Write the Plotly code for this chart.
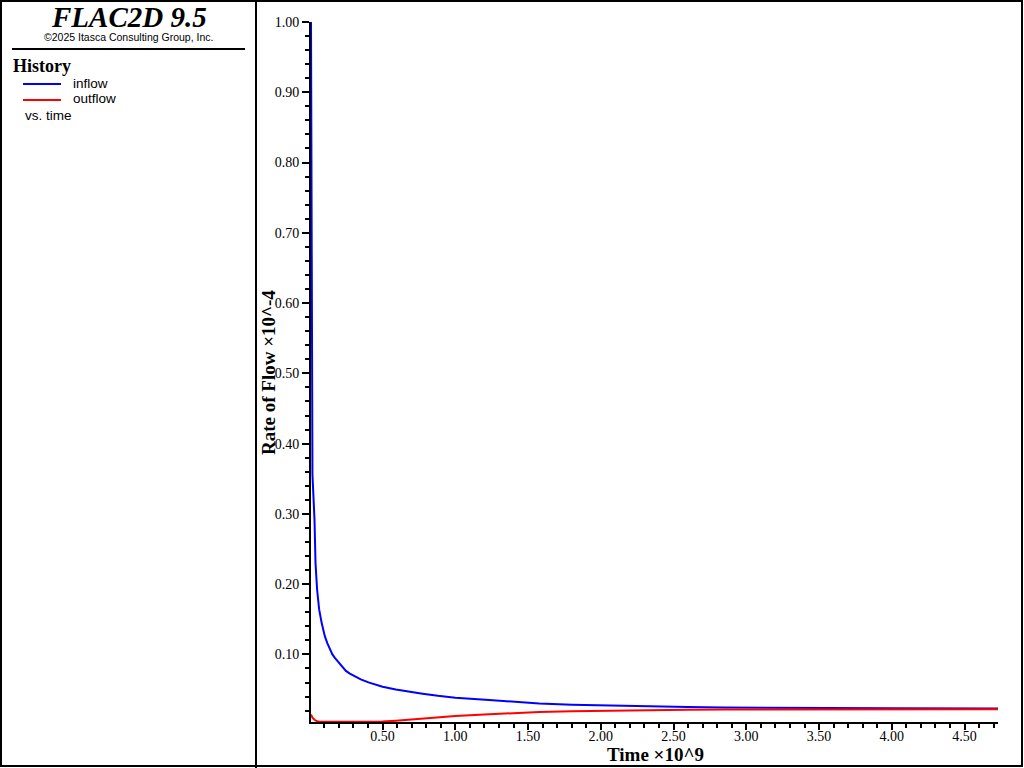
import plotly.graph_objects as go

# Data (time in units of 1e9, flow rate in units of 1e-4)
time = [0.008, 0.012, 0.018, 0.032, 0.039, 0.05, 0.064, 0.08, 0.103, 0.12, 0.137, 0.155, 0.172,
        0.2, 0.225, 0.248, 0.275, 0.3, 0.35, 0.408, 0.45, 0.5, 0.591, 0.68, 0.775, 0.88, 1.0,
        1.233, 1.4, 1.577, 1.8, 1.99, 2.3, 2.6, 2.85, 3.5, 4.0, 4.73]
inflow = [1.0, 0.5, 0.356, 0.292, 0.23, 0.192, 0.164, 0.146, 0.126, 0.116, 0.107, 0.100, 0.095,
          0.088, 0.081, 0.0765, 0.0727, 0.0697, 0.0645, 0.0598, 0.057, 0.054, 0.0502, 0.047,
          0.0441, 0.041, 0.0384, 0.035, 0.0325, 0.0303, 0.0285, 0.0275, 0.0262, 0.0252, 0.0245,
          0.0236, 0.0233, 0.0231]
outflow = [0.0146, 0.013, 0.010, 0.007, 0.006, 0.0048, 0.0043, 0.004, 0.004, 0.004, 0.004, 0.004,
           0.004, 0.004, 0.004, 0.004, 0.004, 0.004, 0.004, 0.0041, 0.0042, 0.0044, 0.0055, 0.007,
           0.0085, 0.0104, 0.0122, 0.0148, 0.0165, 0.018, 0.019, 0.0197, 0.0208, 0.0214, 0.0217,
           0.0219, 0.0219, 0.0219]
x_ticks = [0.5, 1.0, 1.5, 2.0, 2.5, 3.0, 3.5, 4.0, 4.5]
y_ticks = [0.1, 0.2, 0.3, 0.4, 0.5, 0.6, 0.7, 0.8, 0.9, 1.0]

W, H = 1024, 768
L, R, T, B = 311, 26, 22, 46
PW, PH = W - L - R, H - T - B

def px(x):
    return (x - L) / PW

def py(y):
    return (H - B - y) / PH

fig = go.Figure()
fig.add_trace(go.Scatter(x=time, y=inflow, mode="lines", name="inflow",
                         line=dict(color="rgb(0,0,255)", width=2)))
fig.add_trace(go.Scatter(x=time, y=outflow, mode="lines", name="outflow",
                         line=dict(color="rgb(255,0,0)", width=2)))

tickfont = dict(family="Liberation Serif, Times New Roman, serif", size=14, color="black")

fig.update_layout(
    width=W, height=H,
    margin=dict(l=L, r=R, t=T, b=B, pad=0),
    paper_bgcolor="white", plot_bgcolor="white",
    showlegend=False,
    xaxis=dict(range=[0.008, 4.73], tickvals=x_ticks, ticktext=[f"{v:.2f}" for v in x_ticks],
               showgrid=False, zeroline=False, showline=True, linecolor="black", linewidth=2,
               ticks="outside", ticklen=6, tickwidth=2, tickcolor="black", tickfont=tickfont,
               ticklabelstandoff=-6,
               minor=dict(dtick=0.1, tick0=0, ticks="outside", ticklen=4, tickwidth=2, tickcolor="black"),
               fixedrange=True),
    yaxis=dict(range=[0.0038, 1.0], tickvals=y_ticks, ticktext=[f"{v:.2f}" for v in y_ticks],
               showgrid=False, zeroline=False, showline=True, linecolor="black", linewidth=2,
               ticks="outside", ticklen=7, tickwidth=2, tickcolor="black", tickfont=tickfont,
               minor=dict(dtick=0.02, tick0=0, ticks="outside", ticklen=4, tickwidth=2, tickcolor="black"),
               fixedrange=True),
)

shapes = []
# Outer border
shapes.append(dict(type="rect", xref="paper", yref="paper", x0=px(1), x1=px(1022), y0=py(1), y1=py(766),
                   line=dict(color="black", width=2)))
# Panel divider
shapes.append(dict(type="line", xref="paper", yref="paper", x0=px(256), x1=px(256), y0=py(0), y1=py(768),
                   line=dict(color="black", width=2)))
# Title underline
shapes.append(dict(type="line", xref="paper", yref="paper", x0=px(12), x1=px(245), y0=py(49), y1=py(49),
                   line=dict(color="black", width=2)))
# Legend lines
shapes.append(dict(type="line", xref="paper", yref="paper", x0=px(23), x1=px(61), y0=py(84), y1=py(84),
                   line=dict(color="rgb(0,0,255)", width=2)))
shapes.append(dict(type="line", xref="paper", yref="paper", x0=px(23), x1=px(61), y0=py(100), y1=py(100),
                   line=dict(color="rgb(255,0,0)", width=2)))
fig.update_layout(shapes=shapes)

serif = "Liberation Serif, Times New Roman, serif"
sans = "Liberation Sans, Arial, sans-serif"
ann = []
ann.append(dict(text="<b><i>FLAC2D 9.5</i></b>", x=px(129), y=py(17), xanchor="center", yanchor="middle",
                font=dict(family=serif, size=29, color="black")))
ann.append(dict(text="©2025 Itasca Consulting Group, Inc.", x=px(128), y=py(37), xanchor="center", yanchor="middle",
                font=dict(family=sans, size=10.5, color="black")))
ann.append(dict(text="<b>History</b>", x=px(11), y=py(66), xanchor="left", yanchor="middle",
                font=dict(family=serif, size=18, color="black")))
ann.append(dict(text="inflow", x=px(71), y=py(83), xanchor="left", yanchor="middle",
                font=dict(family=sans, size=13.5, color="black")))
ann.append(dict(text="outflow", x=px(71), y=py(99), xanchor="left", yanchor="middle",
                font=dict(family=sans, size=13.5, color="black")))
ann.append(dict(text="vs. time", x=px(23), y=py(115), xanchor="left", yanchor="middle",
                font=dict(family=sans, size=13.5, color="black")))
ann.append(dict(text="<b>Rate of Flow ×10^-4</b>", x=px(268), y=py(373), xanchor="center", yanchor="middle",
                textangle=-90, font=dict(family=serif, size=19, color="black")))
ann.append(dict(text="<b>Time ×10^9</b>", x=px(655), y=py(754), xanchor="center", yanchor="middle",
                font=dict(family=serif, size=19, color="black")))
for a in ann:
    a.update(xref="paper", yref="paper", showarrow=False)
fig.update_layout(annotations=ann)

fig.write_html("out.html", config={"displayModeBar": False},
               post_script="document.body.style.margin='0';document.body.style.overflow='hidden';")
